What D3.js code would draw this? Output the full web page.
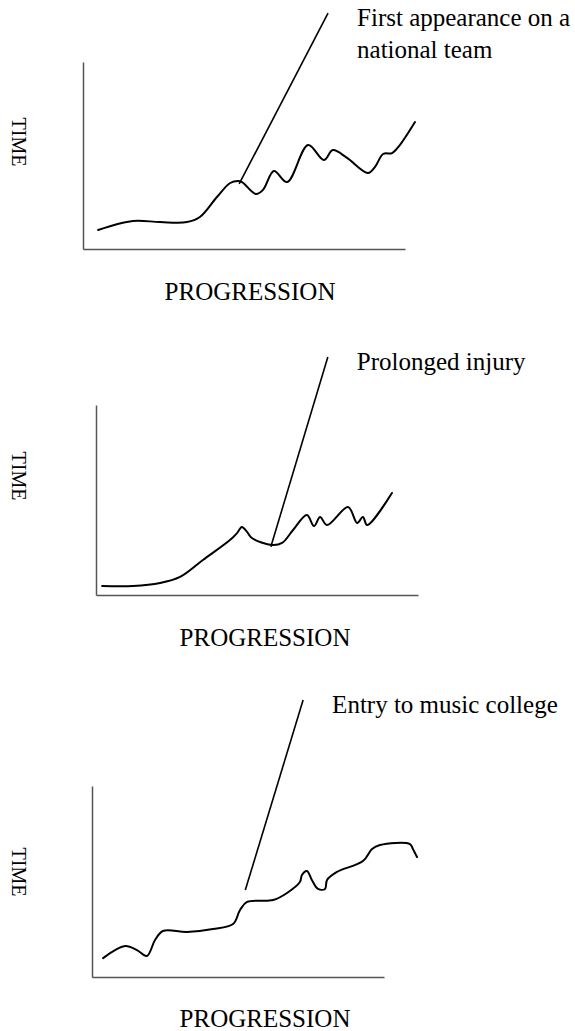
<!DOCTYPE html>
<html>
<head>
<meta charset="utf-8">
<script src="https://cdn.jsdelivr.net/npm/d3@7"></script>
<style>
    html, body { margin: 0; padding: 0; background: #fff; }
    svg { display: block; }
    text { font-family: "Liberation Serif", "Times New Roman", serif; fill: #000; }
</style>
</head>
<body>
<div id="chart"></div>
<script>
// Curves, axis units 0-100 (progression / time)
const firstX = [4.7, 15.5, 23.9, 32.3, 36.3, 41.6, 45.7, 48.1, 49.4, 53.7, 55.9, 59.3, 63.4, 69.9, 74.8, 77.6, 82.0, 88.5, 90.7, 93.2, 96.0, 98.4, 103.1];
const firstY = [10.2, 15.0, 14.4, 14.4, 17.1, 27.8, 35.3, 36.4, 35.8, 29.4, 31.6, 41.7, 35.8, 55.6, 47.6, 52.9, 48.7, 40.6, 43.9, 50.8, 51.3, 55.6, 67.9];

const injuryX = [1.9, 11.5, 19.9, 26.1, 33.2, 41.6, 43.8, 45.3, 46.9, 48.4, 54.7, 57.8, 61.2, 65.5, 67.7, 69.6, 71.7, 78.3, 81.1, 82.9, 84.2, 91.9];
const injuryY = [4.7, 4.7, 6.3, 9.5, 18.4, 28.9, 32.6, 35.8, 33.2, 30.0, 26.3, 27.4, 34.2, 42.1, 36.3, 41.1, 36.8, 46.3, 37.9, 41.1, 36.8, 53.7];

const musicX = [3.8, 11.3, 15.4, 18.8, 21.6, 24.3, 32.5, 41.4, 48.3, 50.7, 53.1, 62.0, 66.8, 71.2, 71.9, 73.6, 75.3, 77.4, 79.8, 80.5, 83.9, 92.8, 95.9, 98.6, 108.9, 109.9, 111.3];
const musicY = [9.9, 16.2, 14.1, 11.0, 19.4, 24.1, 23.6, 25.1, 27.7, 35.1, 39.3, 40.3, 44.0, 49.7, 53.4, 55.5, 50.8, 46.1, 46.1, 50.8, 55.0, 60.7, 67.0, 69.1, 69.6, 67.0, 62.8];

// pointer lines: [start, end] in the same units
const firstPointer = [[48.5, 34.8], [76.1, 126.2]];
const injuryPointer = [[54.3, 25.4], [72.0, 125.3]];
const musicPointer = [[52.5, 45.5], [72.3, 145.0]];

const eventLabels = [
    ['First appearance on a', 'national team'],
    ['Prolonged injury'],
    ['Entry to music college']
];
const xLabel = 'PROGRESSION';
const yLabel = 'TIME';

// page layout of the three panels
const panels = [
    { xs: firstX, ys: firstY, pointer: firstPointer, label: eventLabels[0],
      left: 83, right: 405, top: 62, bottom: 249, timeY: 142, progX: 250, progY: 300 },
    { xs: injuryX, ys: injuryY, pointer: injuryPointer, label: eventLabels[1],
      left: 96, right: 418, top: 405, bottom: 595, timeY: 476, progX: 265, progY: 646 },
    { xs: musicX, ys: musicY, pointer: musicPointer, label: eventLabels[2],
      left: 92, right: 384, top: 786, bottom: 977, timeY: 872, progX: 265, progY: 1027 }
];

const width = 575;
const height = 1031;

const svg = d3.select('#chart')
    .append('svg')
    .attr('width', width)
    .attr('height', height);

panels.forEach(p => {
    const x = d3.scaleLinear().domain([0, 100]).range([p.left, p.right]);
    const y = d3.scaleLinear().domain([0, 100]).range([p.bottom, p.top]);

    const g = svg.append('g');

    // axes: plain lines, no ticks
    g.append('g')
        .attr('transform', `translate(0,${p.bottom})`)
        .call(d3.axisBottom(x).tickValues([]).tickSizeOuter(0))
        .select('.domain')
        .attr('stroke', '#555')
        .attr('stroke-width', 1.5);

    g.append('g')
        .attr('transform', `translate(${p.left},0)`)
        .call(d3.axisLeft(y).tickValues([]).tickSizeOuter(0))
        .select('.domain')
        .attr('stroke', '#555')
        .attr('stroke-width', 1.5);

    const pts = p.xs.map((v, i) => [v, p.ys[i]]);
    const line = d3.line()
        .x(d => x(d[0]))
        .y(d => y(d[1]))
        .curve(d3.curveCatmullRom.alpha(0.5));

    g.append('path')
        .datum(pts)
        .attr('d', line)
        .attr('fill', 'none')
        .attr('stroke', '#000')
        .attr('stroke-width', 2)
        .attr('stroke-linejoin', 'round')
        .attr('stroke-linecap', 'round');

    g.append('line')
        .attr('x1', x(p.pointer[0][0]))
        .attr('y1', y(p.pointer[0][1]))
        .attr('x2', x(p.pointer[1][0]))
        .attr('y2', y(p.pointer[1][1]))
        .attr('stroke', '#000')
        .attr('stroke-width', 1.6);

    // event text sits just right of the pointer's top end
    const tx = x(p.pointer[1][0]) + 29;
    const ty = y(p.pointer[1][1]) + 13;
    g.append('g')
        .selectAll('text')
        .data(p.label)
        .join('text')
        .attr('x', tx)
        .attr('y', (d, i) => ty + i * 32)
        .attr('font-size', 25)
        .text(d => d);

    g.append('text')
        .attr('x', p.progX)
        .attr('y', p.progY)
        .attr('text-anchor', 'middle')
        .attr('font-size', 25)
        .text(xLabel);

    g.append('text')
        .attr('transform', `translate(12,${p.timeY}) rotate(90)`)
        .attr('text-anchor', 'middle')
        .attr('font-size', 20)
        .text(yLabel);
});
</script>
</body>
</html>
